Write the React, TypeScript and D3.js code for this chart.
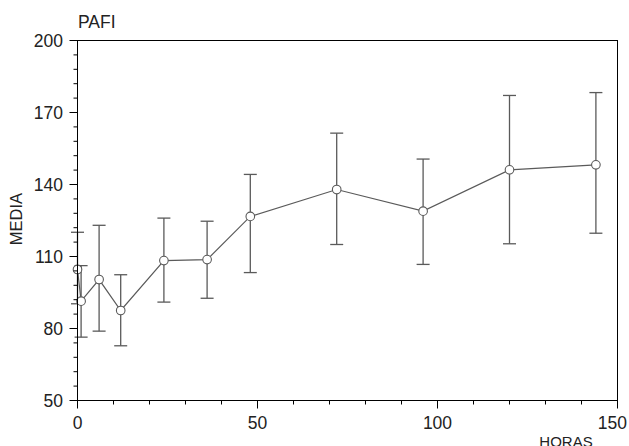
import React from "react";
import * as d3 from "d3";

const hours = [0, 1, 6, 12, 24, 36, 48, 72, 96, 120, 144];
const means = [104.6, 91.4, 100.4, 87.5, 108.3, 108.7, 126.7, 137.9, 128.9, 146.1, 148.2];
const upper = [120.1, 106.2, 123.0, 102.4, 126.0, 124.7, 144.2, 161.4, 150.6, 177.1, 178.3];
const lower = [90.3, 76.4, 78.9, 72.8, 91.0, 92.6, 103.3, 115.0, 106.7, 115.3, 119.7];
const xTicks = [0, 50, 100, 150];
const yTicks = [50, 80, 110, 140, 170, 200];

const W = 629;
const H = 446;
const left = 77.5;
const right = 617.5;
const top = 40.5;
const bottom = 400.5;
const font = "Liberation Sans, Arial, Helvetica, sans-serif";

export default function App() {
  const x = d3.scaleLinear().domain([0, 150]).range([left, right]);
  const y = d3.scaleLinear().domain([50, 200]).range([bottom, top]);
  const xMinor = d3.range(0, 151, 10).filter((v) => v % 50 !== 0);
  const yMinor = d3.range(50, 201, 6).filter((v) => (v - 50) % 30 !== 0);
  const line = d3
    .line<number>()
    .x((_, i) => x(hours[i]))
    .y((d) => y(d));
  const dataColor = "#5a5a5a";
  const cap = 6.5;
  return (
    <svg
      width={W}
      height={H}
      style={{ position: "absolute", left: 0, top: 0, background: "#fff" }}
    >
      <rect x={0} y={0} width={W} height={H} fill="#fff" />
      {/* error bars */}
      {hours.map((h, i) => (
        <g key={"e" + i} stroke={dataColor} strokeWidth={1.3} fill="none">
          <line x1={x(h)} x2={x(h)} y1={y(upper[i])} y2={y(lower[i])} />
          <line x1={x(h) - cap} x2={x(h) + cap} y1={y(upper[i])} y2={y(upper[i])} />
          <line x1={x(h) - cap} x2={x(h) + cap} y1={y(lower[i])} y2={y(lower[i])} />
        </g>
      ))}
      <path d={line(means) || ""} fill="none" stroke={dataColor} strokeWidth={1.2} />
      {hours.map((h, i) => (
        <circle
          key={"c" + i}
          cx={x(h)}
          cy={y(means[i])}
          r={4.3}
          fill="#fff"
          stroke={dataColor}
          strokeWidth={1.1}
        />
      ))}
      {/* frame */}
      <rect
        x={left}
        y={top}
        width={right - left}
        height={bottom - top}
        fill="none"
        stroke="#000"
        strokeWidth={1}
      />
      {/* y ticks */}
      {yTicks.map((v) => (
        <g key={"yt" + v}>
          <line x1={left - 8} x2={left} y1={y(v)} y2={y(v)} stroke="#000" />
          <text
            x={63}
            y={y(v)}
            dy="0.36em"
            textAnchor="end"
            fontFamily={font}
            fontSize={17.5}
            fill="#222"
          >
            {v}
          </text>
        </g>
      ))}
      {yMinor.map((v) => (
        <line key={"ym" + v} x1={left - 4} x2={left} y1={y(v)} y2={y(v)} stroke="#000" />
      ))}
      {/* x ticks */}
      {xTicks.map((v, i) => (
        <g key={"xt" + v}>
          <line x1={x(v)} x2={x(v)} y1={bottom} y2={bottom + 8} stroke="#000" />
          <text
            x={i === xTicks.length - 1 ? 627 : x(v)}
            y={428.5}
            textAnchor={i === xTicks.length - 1 ? "end" : "middle"}
            fontFamily={font}
            fontSize={17.5}
            fill="#222"
          >
            {v}
          </text>
        </g>
      ))}
      {xMinor.map((v) => (
        <line key={"xm" + v} x1={x(v)} x2={x(v)} y1={bottom} y2={bottom + 4} stroke="#000" />
      ))}
      <text x={78} y={28} fontFamily={font} fontSize={17.5} fill="#222">
        PAFI
      </text>
      <text
        transform={`translate(22, 219) rotate(-90)`}
        textAnchor="middle"
        fontFamily={font}
        fontSize={16.5}
        fill="#222"
      >
        MEDIA
      </text>
      <text x={566} y={447} textAnchor="middle" fontFamily={font} fontSize={15} fill="#222">
        HORAS
      </text>
    </svg>
  );
}
